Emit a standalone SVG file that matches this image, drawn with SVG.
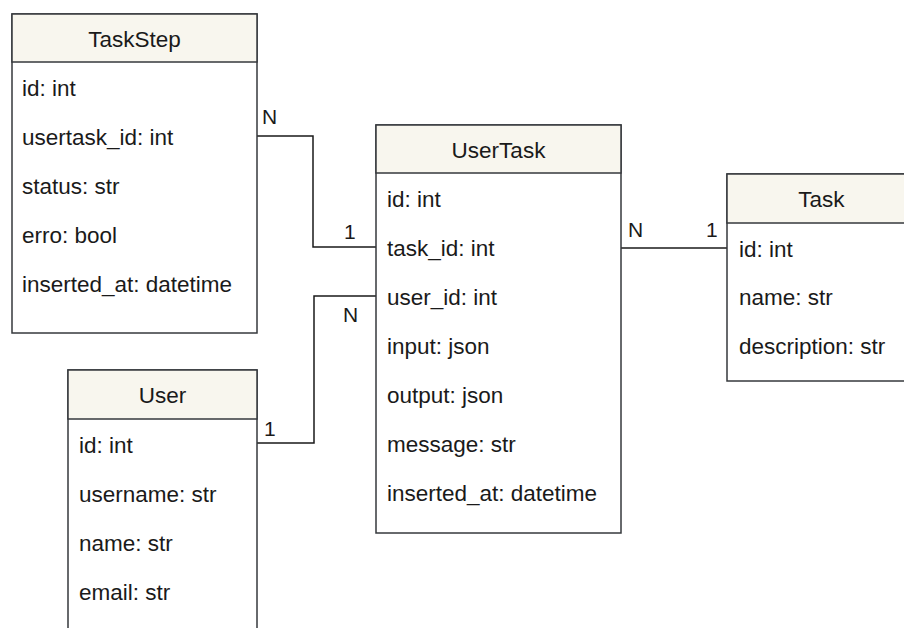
<svg xmlns="http://www.w3.org/2000/svg" width="904" height="628" viewBox="0 0 904 628">
<style>
.box{fill:#ffffff;stroke:#36393d;stroke-width:1.5}
.hdr{fill:#f8f6ee;stroke:#36393d;stroke-width:1.5}
.t{font-family:"Liberation Sans",Arial,sans-serif;font-size:22.5px;fill:#1a1a1a}
.c{text-anchor:middle}
.lbl{font-family:"Liberation Sans",Arial,sans-serif;font-size:21px;fill:#1a1a1a}
.ln{fill:none;stroke:#1a1a1a;stroke-width:1.5}
</style>
<rect width="904" height="628" fill="#ffffff"/>
<g id="connectors">
<polyline class="ln" points="257,136 313,136 313,247 376,247"/>
<polyline class="ln" points="257,443 314,443 314,296 376,296"/>
<polyline class="ln" points="621,248 727,248"/>
<text class="lbl" x="262" y="124">N</text>
<text class="lbl" x="344" y="239">1</text>
<text class="lbl" x="343" y="322">N</text>
<text class="lbl" x="264" y="436">1</text>
<text class="lbl" x="628" y="237">N</text>
<text class="lbl" x="706" y="237">1</text>
</g>
<g id="TaskStep">
<rect class="box" x="12" y="14" width="245" height="319"/>
<rect class="hdr" x="12" y="14" width="245" height="48"/>
<text class="t c" x="134.5" y="47">TaskStep</text>
<text class="t" x="22" y="96">id: int</text>
<text class="t" x="22" y="145">usertask_id: int</text>
<text class="t" x="22" y="194">status: str</text>
<text class="t" x="22" y="243">erro: bool</text>
<text class="t" x="22" y="292">inserted_at: datetime</text>
</g>
<g id="UserTask">
<rect class="box" x="376" y="125" width="245" height="408"/>
<rect class="hdr" x="376" y="125" width="245" height="48"/>
<text class="t c" x="498.5" y="158">UserTask</text>
<text class="t" x="387" y="207">id: int</text>
<text class="t" x="387" y="256">task_id: int</text>
<text class="t" x="387" y="305">user_id: int</text>
<text class="t" x="387" y="354">input: json</text>
<text class="t" x="387" y="403">output: json</text>
<text class="t" x="387" y="452">message: str</text>
<text class="t" x="387" y="501">inserted_at: datetime</text>
</g>
<g id="Task">
<rect class="box" x="727" y="174" width="189" height="207"/>
<rect class="hdr" x="727" y="174" width="189" height="49"/>
<text class="t c" x="821.5" y="207">Task</text>
<text class="t" x="739" y="257">id: int</text>
<text class="t" x="739" y="305">name: str</text>
<text class="t" x="739" y="354">description: str</text>
</g>
<g id="User">
<rect class="box" x="68" y="370" width="189" height="280"/>
<rect class="hdr" x="68" y="370" width="189" height="49"/>
<text class="t c" x="162.5" y="403">User</text>
<text class="t" x="79" y="453">id: int</text>
<text class="t" x="79" y="502">username: str</text>
<text class="t" x="79" y="551">name: str</text>
<text class="t" x="79" y="600">email: str</text>
</g>
</svg>
